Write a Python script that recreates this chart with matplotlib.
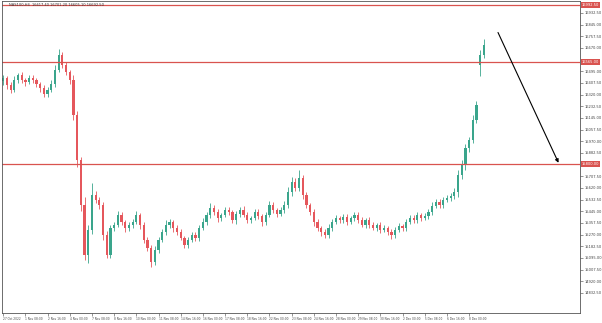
import numpy as np
import matplotlib.pyplot as plt

# H4 closes
closes = [16445, 16392, 16355, 16430, 16467, 16430, 16415, 16445, 16430, 16400,
          16370, 16325, 16355, 16400, 16505, 16617, 16542, 16490, 16430, 16167,
          15830, 15492, 15117, 15305, 15567, 15530, 15492, 15267, 15117, 15320,
          15342, 15417, 15365, 15320, 15342, 15365, 15417, 15342, 15230, 15170,
          15065, 15155, 15230, 15290, 15342, 15365, 15320, 15290, 15245, 15192,
          15230, 15267, 15245, 15320, 15365, 15417, 15470, 15440, 15395, 15417,
          15455, 15440, 15380, 15425, 15455, 15417, 15380, 15395, 15440, 15410,
          15365, 15417, 15492, 15455, 15425, 15455, 15492, 15590, 15665, 15620,
          15695, 15567, 15492, 15440, 15365, 15320, 15290, 15267, 15320, 15365,
          15395, 15380, 15402, 15365, 15395, 15417, 15380, 15342, 15380, 15342,
          15320, 15342, 15305, 15320, 15290, 15267, 15305, 15335, 15320, 15365,
          15395, 15380, 15417, 15395, 15410, 15440, 15485, 15515, 15492, 15530,
          15545, 15560, 15590, 15717, 15792, 15920, 15980, 16130, 16242, 16617,
          16692]
first_open = 16420
gap_open = {129: 16540}
up_wick = [20, 15, 25, 30, 18, 22, 15, 25, 20, 18,
           15, 20, 25, 30, 35, 45, 25, 20, 15, 40,
           30, 25, 60, 40, 90, 30, 25, 20, 30, 25,
           20, 30, 20, 15, 25, 20, 30, 15, 20, 25,
           20, 30, 25, 20, 35, 20, 15, 20, 25, 15,
           20, 25, 20, 25, 30, 20, 35, 25, 20, 15,
           25, 20, 15, 20, 25, 30, 20, 15, 25, 20,
           15, 25, 30, 20, 15, 25, 30, 35, 40, 30,
           60, 25, 20, 15, 20, 25, 15, 20, 30, 25,
           20, 15, 25, 20, 15, 20, 25, 20, 15, 20,
           25, 15, 20, 25, 15, 20, 25, 20, 15, 25,
           20, 25, 20, 15, 25, 20, 30, 25, 20, 25,
           20, 25, 30, 35, 40, 30, 25, 35, 30, 40,
           45]
dn_wick = [25, 30, 20, 15, 25, 20, 30, 15, 25, 20,
           30, 25, 20, 15, 20, 15, 25, 20, 30, 40,
           50, 45, 40, 60, 30, 25, 30, 35, 20, 25,
           20, 15, 25, 30, 20, 25, 15, 30, 25, 20,
           40, 25, 20, 15, 20, 25, 30, 20, 15, 25,
           20, 15, 25, 20, 15, 20, 25, 20, 30, 25,
           15, 20, 25, 30, 20, 15, 25, 20, 15, 25,
           30, 20, 15, 25, 20, 15, 20, 25, 30, 20,
           25, 30, 25, 20, 30, 25, 30, 20, 25, 20,
           15, 20, 25, 20, 15, 25, 20, 15, 25, 20,
           15, 25, 20, 15, 25, 30, 20, 15, 20, 25,
           15, 20, 25, 20, 15, 25, 20, 15, 25, 20,
           15, 20, 25, 40, 30, 35, 30, 25, 20, 80,
           25]

levels = [16992.5, 16565, 15800]
date_labels = ["27 Oct 2022", "1 Nov 08:00", "2 Nov 16:00", "4 Nov 00:00", "7 Nov 08:00",
               "8 Nov 16:00", "10 Nov 00:00", "11 Nov 08:00", "14 Nov 16:00", "16 Nov 00:00",
               "17 Nov 08:00", "18 Nov 16:00", "22 Nov 00:00", "23 Nov 08:00", "24 Nov 16:00",
               "28 Nov 00:00", "29 Nov 08:00", "30 Nov 16:00", "2 Dec 00:00", "5 Dec 08:00",
               "6 Dec 16:00", "8 Dec 00:00"]

closes = np.array(closes, dtype=float)
opens = np.concatenate([[first_open], closes[:-1]])
for k, v in gap_open.items():
    opens[k] = v
highs = np.maximum(opens, closes) + np.array(up_wick)
lows = np.minimum(opens, closes) - np.array(dn_wick)
idx = np.arange(len(closes))
up = closes >= opens

green = "#3aa58c"
red = "#e5575c"
lvl_red = "#d9534f"

fig = plt.figure(figsize=(6.02, 3.23), dpi=100)
fig.patch.set_facecolor("white")
ax = fig.add_axes([0.0035, 0.031, 0.96, 0.966])

ax.vlines(idx[up], lows[up], highs[up], color=green, lw=0.6)
ax.vlines(idx[~up], lows[~up], highs[~up], color=red, lw=0.6)
ax.bar(idx[up], closes[up] - opens[up], bottom=opens[up], width=0.6, color=green, lw=0)
ax.bar(idx[~up], opens[~up] - closes[~up], bottom=closes[~up], width=0.6, color=red, lw=0)

for lv in levels:
    ax.axhline(lv, color=lvl_red, lw=0.9)

# arrow drawn on the chart
ax.annotate("", xy=(150.5, 15790), xytext=(133.5, 16805),
            arrowprops=dict(arrowstyle="-|>", color="black", lw=0.8, mutation_scale=5))

ax.set_xlim(-0.3, 156)
ax.set_ylim(14682.5, 17022.5)

# price scale, skipping the ticks hidden under the level tags
ticks = [t for t in np.arange(14832.5, 16950, 87.5)
         if min(abs(t - lv) for lv in levels) > 40]
ax.yaxis.tick_right()
ax.set_yticks(ticks)
ax.set_yticklabels([f"{t:.2f}" for t in ticks])
ax.tick_params(axis="y", labelsize=2.6, length=2, width=0.4, pad=1, colors="#444444")
ax.set_xticks(np.arange(0, 6 * len(date_labels), 6))
ax.set_xticklabels(date_labels, ha="left")
ax.tick_params(axis="x", labelsize=2.1, length=2, width=0.4, pad=1, colors="#444444")

for lv in levels:
    ax.text(1.003, lv, f"{lv:.2f}", transform=ax.get_yaxis_transform(), fontsize=2.6,
            color="white", va="center", ha="left",
            bbox=dict(boxstyle="square,pad=0.15", fc=lvl_red, ec="none"))

for s in ax.spines.values():
    s.set_color("#555555")
    s.set_linewidth(0.6)

ax.text(0.012, 0.992, "NAS100,H4  16617.40 16701.20 16605.10 16692.50", transform=ax.transAxes,
        fontsize=2.6, color="#333333", va="top", ha="left")

fig.savefig("out.png", dpi=100)
